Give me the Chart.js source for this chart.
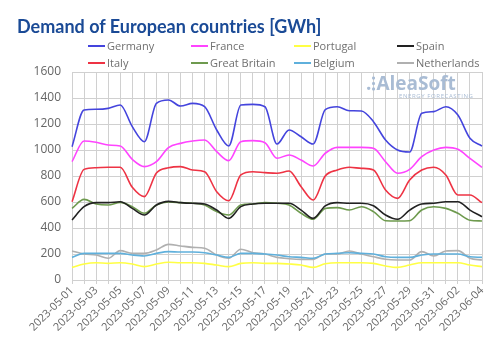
<!DOCTYPE html>
<html>
<head>
<meta charset="utf-8">
<script src="https://cdn.jsdelivr.net/npm/chart.js@4/dist/chart.umd.min.js"></script>
<style>
  html, body { margin: 0; padding: 0; background: #fff; }
  #wrap { position: relative; width: 500px; height: 356px; overflow: hidden; }
  #title { position: absolute; left: 17px; top: 15px; font-family: "Lato", sans-serif; font-weight: 700; font-size: 18px; color: #1a4a96; white-space: nowrap; }
  .lg { position: absolute; font-family: "Open Sans", sans-serif; font-size: 11px; color: #707070; white-space: nowrap; display: flex; align-items: center; }
  .lg i { display: inline-block; width: 17px; height: 2px; margin-right: 2px; }
  #wm { position: absolute; left: 366px; top: 73px; color: #a9bcd4; font-family: "Open Sans", sans-serif; pointer-events: none; }
  #wm .n { font-size: 19px; font-weight: 700; line-height: 20px; }
  #wm .s { position: absolute; left: 33px; top: 19px; font-size: 6px; letter-spacing: 0.6px; white-space: nowrap; }
  canvas { position: absolute; left: 0; top: 0; }
</style>
</head>
<body>
<div id="wrap">
  <canvas id="c" width="500" height="356"></canvas>
  <div id="title">Demand of European countries [GWh]</div>
  <div id="legend"></div>
  <div id="wm"><span class="n">.⁝AleaSoft</span><span class="s">ENERGY FORECASTING</span></div>
</div>
<script>
const dates = [
  "2023-05-01","2023-05-02","2023-05-03","2023-05-04","2023-05-05","2023-05-06","2023-05-07",
  "2023-05-08","2023-05-09","2023-05-10","2023-05-11","2023-05-12","2023-05-13","2023-05-14",
  "2023-05-15","2023-05-16","2023-05-17","2023-05-18","2023-05-19","2023-05-20","2023-05-21",
  "2023-05-22","2023-05-23","2023-05-24","2023-05-25","2023-05-26","2023-05-27","2023-05-28",
  "2023-05-29","2023-05-30","2023-05-31","2023-06-01","2023-06-02","2023-06-03","2023-06-04"
];
const germany = [1025,1308,1313,1320,1346,1180,1064,1359,1385,1338,1359,1333,1154,1031,1346,1351,1333,1046,1154,1102,1046,1310,1333,1302,1300,1218,1077,1000,985,1282,1295,1333,1269,1090,1030];
const france = [910,1069,1059,1038,1031,928,872,910,1018,1051,1069,1077,987,918,1064,1072,1056,936,962,923,877,975,1020,1020,1020,1013,910,821,851,949,1000,1020,1005,936,867];
const portugal = [97,123,133,128,133,123,103,123,137,133,133,128,115,103,128,133,128,128,123,115,97,125,133,133,133,128,108,97,115,133,133,133,133,115,103];
const spain = [462,564,595,595,602,551,500,577,605,595,590,585,538,474,564,585,590,590,590,538,474,570,595,590,590,571,500,467,538,585,590,602,602,538,487];
const italy = [602,851,864,867,867,713,641,823,863,872,846,833,679,610,808,833,826,821,838,718,615,800,846,867,859,846,692,628,769,846,867,808,654,654,595];
const greatBritain = [551,620,585,577,597,564,513,577,600,595,590,577,526,500,577,585,595,590,577,513,467,550,557,538,564,526,456,454,456,538,564,551,513,460,454];
const belgium = [174,205,205,205,205,192,185,205,218,215,215,210,192,174,205,205,200,192,179,174,167,200,205,210,205,200,179,174,174,192,200,200,200,179,174];
const netherlands = [223,200,192,167,226,205,205,231,274,262,251,244,192,167,236,210,200,174,164,159,159,200,200,223,200,179,159,154,154,218,185,223,226,167,154];
const yTicks = [0,200,400,600,800,1000,1200,1400,1600];

const seriesNames = ["Germany","France","Portugal","Spain","Italy","Great Britain","Belgium","Netherlands"];
const seriesData = [germany,france,portugal,spain,italy,greatBritain,belgium,netherlands];
const seriesColors = ["#4444dd","#ff44ff","#ffff44","#222222","#ee3344","#6e9a4e","#5fb0dc","#b0b0b0"];

const legend = document.getElementById('legend');
const colX = [88,191,294,397];
const rowY = [38,55];
seriesNames.forEach((n,i)=>{
  const d = document.createElement('div');
  d.className = 'lg';
  d.style.left = colX[i%4] + 'px';
  d.style.top = rowY[Math.floor(i/4)] + 'px';
  d.innerHTML = '<i style="background:'+seriesColors[i]+'"></i>' + n;
  legend.appendChild(d);
});

const datasets = seriesNames.map((n,i)=>({
  label: n,
  data: seriesData[i],
  borderColor: seriesColors[i],
  backgroundColor: seriesColors[i],
  borderWidth: 1.6,
  pointRadius: 0,
  cubicInterpolationMode: 'monotone',
  fill: false
}));

new Chart(document.getElementById('c'), {
  type: 'line',
  data: { labels: dates, datasets: datasets },
  options: {
    responsive: false,
    animation: false,
    devicePixelRatio: 1,
    layout: { padding: { top: 72, right: 18, left: 0, bottom: 0 } },
    plugins: { legend: { display: false }, title: { display: false }, tooltip: { enabled: false } },
    scales: {
      x: {
        grid: { color: '#d0d0d0', drawTicks: true, tickLength: 4 },
        border: { color: '#d0d0d0' },
        ticks: {
          autoSkip: false,
          maxRotation: 45, minRotation: 45,
          color: '#666',
          font: { family: 'Open Sans', size: 11 },
          padding: 0,
          callback: function(v, i) { return i % 2 === 0 ? dates[i] : ''; }
        },
        afterFit: function(s) { s.height = 76; }
      },
      y: {
        min: 0, max: 1600,
        afterBuildTicks: function(s) { s.ticks = yTicks.map(v => ({ value: v })); },
        grid: { color: '#d0d0d0', drawTicks: false },
        border: { display: false },
        ticks: { color: '#666', font: { family: 'Open Sans', size: 12 }, padding: 11,
                 callback: function(v) { return String(v); } },
        afterFit: function(s) { s.width = 72; }
      }
    }
  }
});
</script>
</body>
</html>
